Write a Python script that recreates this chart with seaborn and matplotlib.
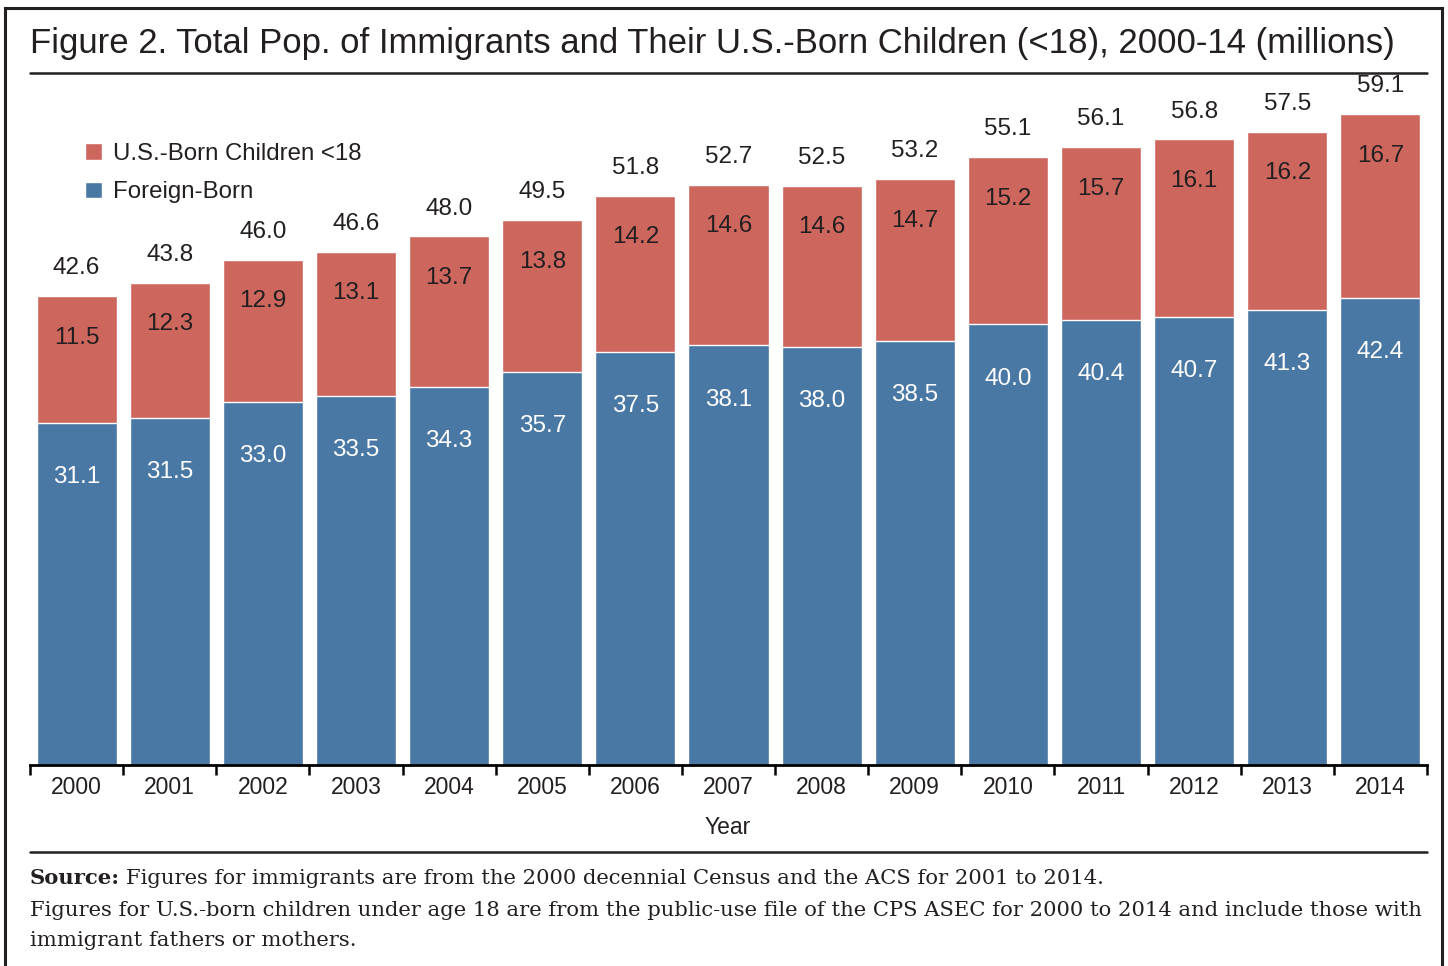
import matplotlib
matplotlib.use("Agg")
import matplotlib.pyplot as plt
import pandas as pd
import seaborn as sns
from matplotlib.patches import Patch, Rectangle
from matplotlib.lines import Line2D

# values (millions)
years = ["2000", "2001", "2002", "2003", "2004", "2005", "2006", "2007",
         "2008", "2009", "2010", "2011", "2012", "2013", "2014"]
foreign_born = [31.1, 31.5, 33.0, 33.5, 34.3, 35.7, 37.5, 38.1,
                38.0, 38.5, 40.0, 40.4, 40.7, 41.3, 42.4]
us_born_kids = [11.5, 12.3, 12.9, 13.1, 13.7, 13.8, 14.2, 14.6,
                14.6, 14.7, 15.2, 15.7, 16.1, 16.2, 16.7]
totals = [42.6, 43.8, 46.0, 46.6, 48.0, 49.5, 51.8, 52.7,
          52.5, 53.2, 55.1, 56.1, 56.8, 57.5, 59.1]

RED = "#cd675e"
BLUE = "#4a78a4"
INK = "#231f20"

sns.set_theme(style="white")
plt.rcParams["font.family"] = ["Liberation Sans", "DejaVu Sans"]

df = pd.DataFrame({"year": years, "foreign": foreign_born, "kids": us_born_kids})
df["stack"] = df["foreign"] + df["kids"]

W, H = 1448, 966
fig = plt.figure(figsize=(W / 100, H / 100), dpi=100)
ax = fig.add_axes([30 / W, (H - 765) / H, 1397 / W, 685 / H])

sns.barplot(data=df, x="year", y="stack", color=RED, saturation=1,
            width=0.86, ax=ax)
sns.barplot(data=df, x="year", y="foreign", color=BLUE, saturation=1,
            width=0.86, ax=ax)

ax.set_xlim(-0.5, 14.5)
ax.set_ylim(0, 62.2)

for i in range(len(years)):
    top = df["stack"][i]
    ax.annotate(f"{totals[i]:.1f}", (i, top), xytext=(0, 20), textcoords="offset points",
                ha="center", va="center", fontsize=17.5, color=INK)
    ax.annotate(f"{us_born_kids[i]:.1f}", (i, top), xytext=(0, -30), textcoords="offset points",
                ha="center", va="center", fontsize=17.5, color=INK)
    ax.annotate(f"{foreign_born[i]:.1f}", (i, foreign_born[i]), xytext=(0, -39),
                textcoords="offset points", ha="center", va="center",
                fontsize=17.5, color="white")

# axis styling
for s in ["top", "right", "left"]:
    ax.spines[s].set_visible(False)
ax.spines["bottom"].set_color("black")
ax.spines["bottom"].set_linewidth(2)
ax.set_yticks([])
ax.set_ylabel("")
ax.set_xlabel("")
ax.set_xticks(range(len(years)))
ax.set_xticklabels(years, fontsize=16.5, color=INK)
ax.set_xticks([i - 0.5 for i in range(len(years) + 1)], minor=True)
ax.tick_params(axis="x", which="major", length=0, pad=8)
ax.tick_params(axis="x", which="minor", length=7, width=1.8, color="black",
               direction="out", bottom=True)

handles = [Patch(facecolor=RED, label="U.S.-Born Children <18"),
           Patch(facecolor=BLUE, label="Foreign-Born")]
fig.legend(handles=handles, loc="upper left", bbox_to_anchor=(85 / W, 1 - 143 / H),
           frameon=False, fontsize=17.3, handlelength=0.7, handleheight=0.7,
           handletextpad=0.45, labelspacing=0.68, borderpad=0, borderaxespad=0,
           labelcolor=INK)

fig.text(728 / W, 1 - 828 / H, "Year", ha="center", va="center", fontsize=16.5, color=INK)

# title and rules
fig.text(30 / W, 1 - 44 / H, "Figure 2. Total Pop. of Immigrants and Their U.S.-Born Children (<18), 2000-14 (millions)",
         ha="left", va="center", fontsize=25, color=INK)
fig.add_artist(Line2D([30 / W, 1427 / W], [1 - 73 / H, 1 - 73 / H], color=INK, lw=1.8))
fig.add_artist(Line2D([30 / W, 1427 / W], [1 - 852 / H, 1 - 852 / H], color=INK, lw=1.8))
fig.add_artist(Rectangle((5 / W, -0.05), 1437 / W, 1.05 - 8 / H, fill=False,
                         edgecolor=INK, lw=2.2, transform=fig.transFigure))

# source note
serif = ["DejaVu Serif"]
fs = 15.2
fig.canvas.draw()
rend = fig.canvas.get_renderer()
t = fig.text(30 / W, 1 - 878 / H, "Source:", ha="left", va="center", fontsize=fs,
             fontweight="bold", family=serif, color=INK)
bb = t.get_window_extent(rend)
fig.text((bb.x1 + 6) / W, 1 - 878 / H,
         "Figures for immigrants are from the 2000 decennial Census and the ACS for 2001 to 2014.",
         ha="left", va="center", fontsize=fs, family=serif, color=INK)
fig.text(30 / W, 1 - 910 / H,
         "Figures for U.S.-born children under age 18 are from the public-use file of the CPS ASEC for 2000 to 2014 and include those with",
         ha="left", va="center", fontsize=fs, family=serif, color=INK)
fig.text(30 / W, 1 - 941 / H, "immigrant fathers or mothers.",
         ha="left", va="center", fontsize=fs, family=serif, color=INK)

fig.savefig("out.png", dpi=100)
